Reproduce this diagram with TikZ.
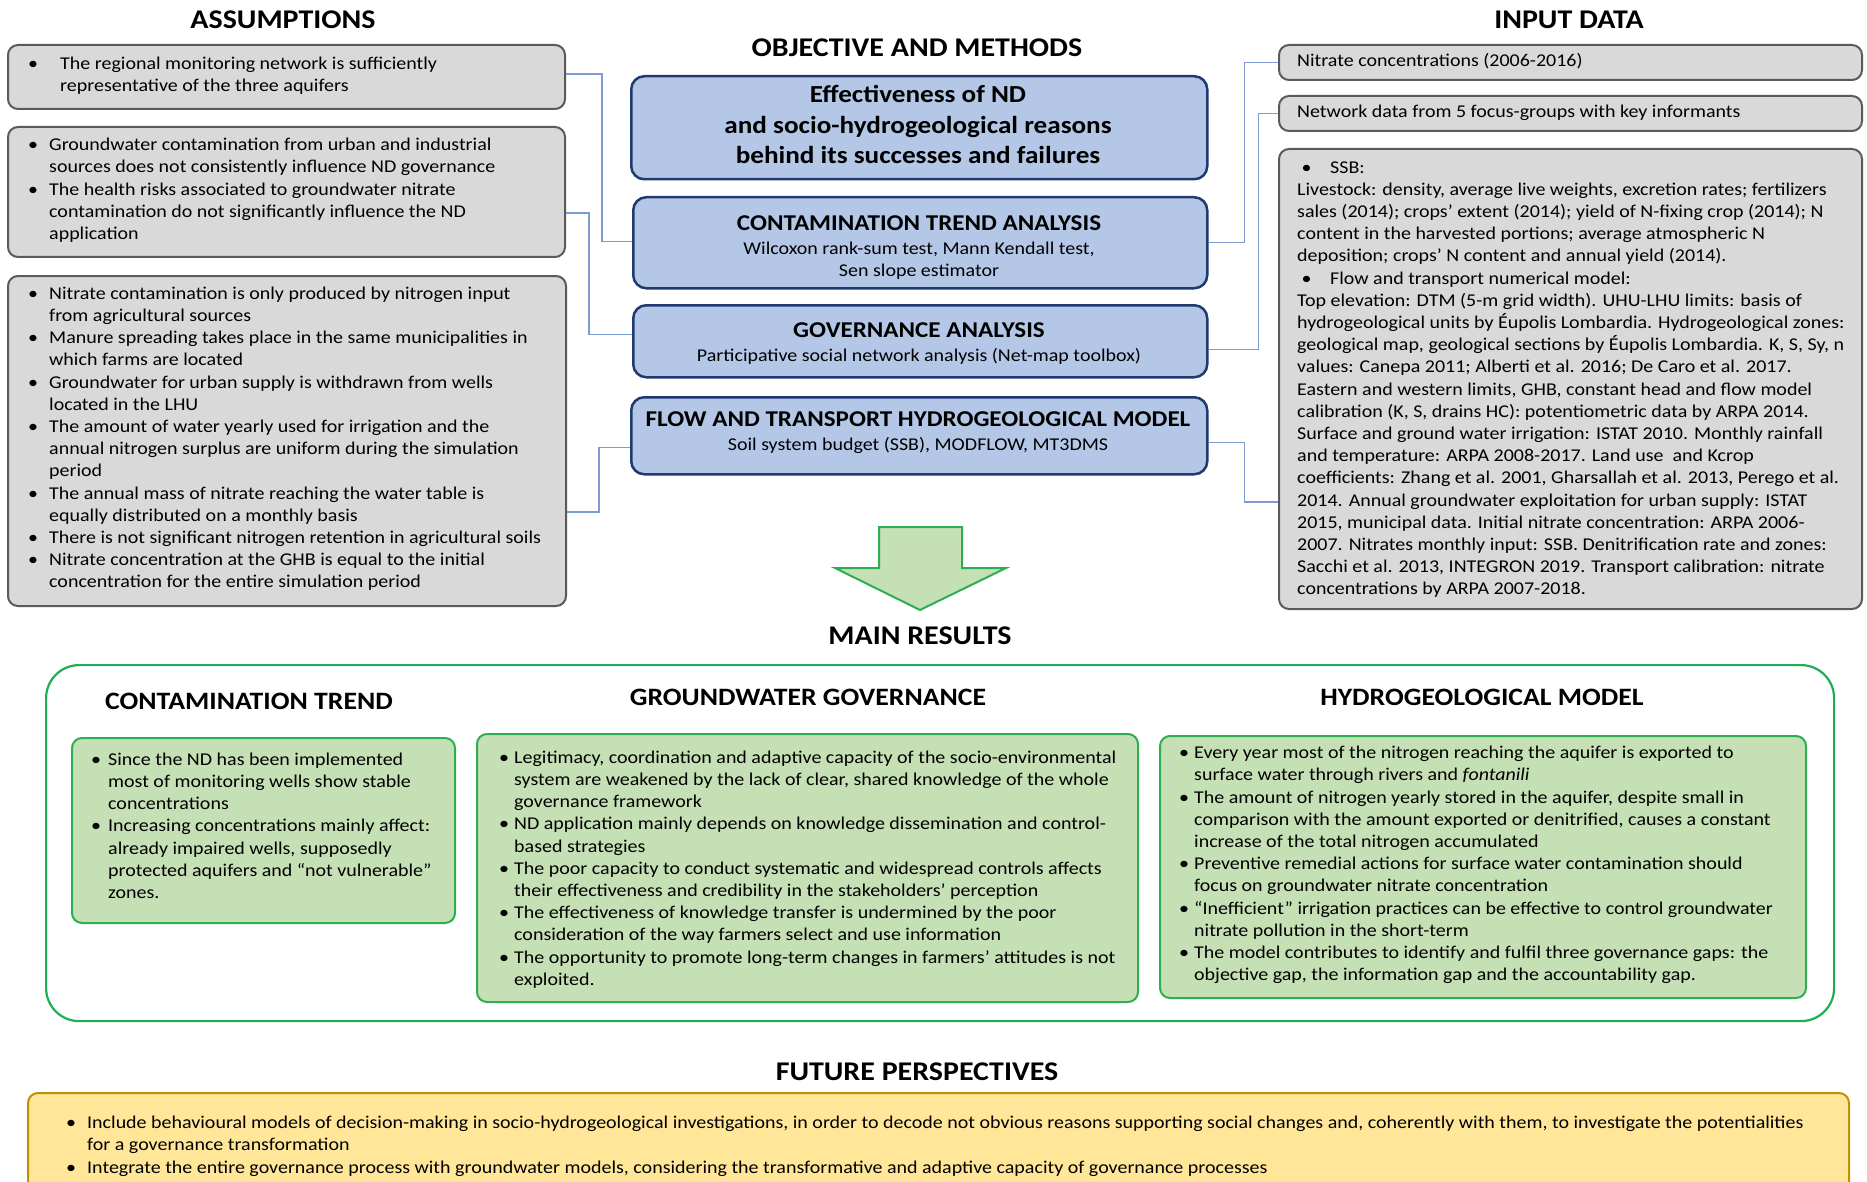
\documentclass[tikz,border=0pt]{standalone}
\usepackage{fontspec}
\setmainfont{Carlito}[FakeStretch=1.11]
\definecolor{grayfill}{HTML}{D9D9D9}
\definecolor{grayline}{HTML}{5A5A5A}
\definecolor{bluefill}{HTML}{B4C7E7}
\definecolor{blueline}{HTML}{1F3A70}
\definecolor{connblue}{HTML}{7F9BD4}
\definecolor{greenfill}{HTML}{C5E0B4}
\definecolor{greenline}{HTML}{2EAD52}
\definecolor{framegreen}{HTML}{1FAE55}
\definecolor{yellowfill}{HTML}{FFE699}
\definecolor{yellowline}{HTML}{BF9000}
\newcommand\bodyfont{\fontsize{18}{22.2}\selectfont}
\newcommand\bul[1]{\makebox[#1][l]{\textbullet}}
\newcommand\ind[1]{\hspace*{#1}}
\begin{document}
\begin{tikzpicture}[x=1pt,y=-1pt,
  graybox/.style={draw=grayline, fill=grayfill, line width=2pt, rounded corners=10pt, inner sep=0pt, anchor=north west},
  bluebox/.style={draw=blueline, fill=bluefill, line width=2.5pt, rounded corners=13pt, inner sep=0pt, anchor=north west},
  greenbox/.style={draw=greenline, fill=greenfill, line width=2pt, rounded corners=10pt, inner sep=0pt, anchor=north west},
  framebox/.style={draw=framegreen, fill=white, line width=2.2pt, rounded corners=33pt, inner sep=0pt, anchor=north west},
  yellowbox/.style={draw=yellowline, fill=yellowfill, line width=2pt, rounded corners=10pt, inner sep=0pt, anchor=north west},
  conn/.style={draw=connblue, line width=1.4pt},
  body/.style={anchor=north west, inner sep=0pt, align=left, font=\bodyfont},
  head/.style={anchor=base, inner sep=0pt, font=\fontsize{27}{31}\selectfont\bfseries},
  subhead/.style={anchor=base, inner sep=0pt, font=\fontsize{25}{30}\selectfont\bfseries},
  mtitle/.style={anchor=base, inner sep=0pt, font=\fontsize{22.6}{27}\selectfont\bfseries},
  msub/.style={anchor=base, inner sep=0pt, font=\bodyfont},
]
\useasboundingbox (0,0) rectangle (1867,1182);
\clip (0,0) rectangle (1867,1182);

% ---------- titles ----------
\node[head] (tAss) at (283,28.6) {ASSUMPTIONS};
\node[head] (tObj) at (917,56.6) {OBJECTIVE AND METHODS};
\node[head] (tIn) at (1569,28.6) {INPUT DATA};
\node[head] (tMain) at (920,644.6) {MAIN RESULTS};
\node[head] (tFut) at (917,1080.6) {FUTURE PERSPECTIVES};

% ---------- assumptions ----------
\node[graybox, minimum width=557pt, minimum height=64pt] (as1) at (7,44) {};
\node[graybox, minimum width=557pt, minimum height=130pt] (as2) at (7,126) {};
\node[graybox, minimum width=558pt, minimum height=330pt] (as3) at (7,275) {};

\node[body] (as1t) at (28,54) {\strut\bul{32pt}The regional monitoring network is sufficiently\\
\ind{32pt}representative of the three aquifers};
\node[body] (as2t) at (28,135) {\strut\bul{21pt}Groundwater contamination from urban and industrial\\
\ind{21pt}sources does not consistently influence ND governance\\
\bul{21pt}The health risks associated to groundwater nitrate\\
\ind{21pt}contamination do not significantly influence the ND\\
\ind{21pt}application};
\node[body] (as3t) at (28,283.5) {\strut\bul{21pt}Nitrate contamination is only produced by nitrogen input\\
\ind{21pt}from agricultural sources\\
\bul{21pt}Manure spreading takes place in the same municipalities in\\
\ind{21pt}which farms are located\\
\bul{21pt}Groundwater for urban supply is withdrawn from wells\\
\ind{21pt}located in the LHU\\
\bul{21pt}The amount of water yearly used for irrigation and the\\
\ind{21pt}annual nitrogen surplus are uniform during the simulation\\
\ind{21pt}period\\
\bul{21pt}The annual mass of nitrate reaching the water table is\\
\ind{21pt}equally distributed on a monthly basis\\
\bul{21pt}There is not significant nitrogen retention in agricultural soils\\
\bul{21pt}Nitrate concentration at the GHB is equal to the initial\\
\ind{21pt}concentration for the entire simulation period};

% ---------- objective and methods ----------
\node[bluebox, minimum width=576pt, minimum height=103pt] (mA) at (630,75) {};
\node[bluebox, minimum width=574pt, minimum height=91pt] (mB) at (632,196) {};
\node[bluebox, minimum width=574pt, minimum height=72pt] (mC) at (632,304) {};
\node[bluebox, minimum width=576pt, minimum height=77pt] (mD) at (630,396) {};

\node[anchor=north, inner sep=0pt, align=center, font=\fontsize{24.5}{30.5}\selectfont\bfseries] (mAt) at (918,81)
  {\strut Effectiveness of ND\\and socio-hydrogeological reasons\\behind its successes and failures};
\node[mtitle] (mBt) at (919,230.5) {CONTAMINATION TREND ANALYSIS};
\node[anchor=north, inner sep=0pt, align=center, font=\bodyfont] (mBs) at (919,238.5)
  {\strut Wilcoxon rank-sum test, Mann Kendall test,\\Sen slope estimator};
\node[mtitle] (mCt) at (919,337.5) {GOVERNANCE ANALYSIS};
\node[msub] (mCs) at (919,361) {Participative social network analysis (Net-map toolbox)};
\node[mtitle] (mDt) at (918,426.5) {FLOW AND TRANSPORT HYDROGEOLOGICAL MODEL};
\node[msub] (mDs) at (918,450) {Soil system budget (SSB), MODFLOW, MT3DMS};

% ---------- input data ----------
\node[graybox, minimum width=583pt, minimum height=35pt] (r1) at (1278,44) {};
\node[graybox, minimum width=583pt, minimum height=35pt] (r2) at (1278,95) {};
\node[graybox, minimum width=583pt, minimum height=460pt] (r3) at (1278,148) {};

\node[anchor=base west, inner sep=0pt, font=\bodyfont] (r1t) at (1297,67) {Nitrate concentrations (2006-2016)};
\node[anchor=base west, inner sep=0pt, font=\bodyfont] (r2t) at (1297,118) {Network data from 5 focus-groups with key informants};
\node[body] (r3t) at (1297,157.3) {\strut\ind{4.5pt}\bul{28.5pt}SSB:\\
Livestock: density, average live weights, excretion rates; fertilizers\\
sales (2014); crops’ extent (2014); yield of N-fixing crop (2014); N\\
content in the harvested portions; average atmospheric N\\
deposition; crops’ N content and annual yield (2014).\\
\ind{4.5pt}\bul{28.5pt}Flow and transport numerical model:\\
Top elevation: DTM (5-m grid width). UHU-LHU limits: basis of\\
hydrogeological units by Éupolis Lombardia. Hydrogeological zones:\\
geological map, geological sections by Éupolis Lombardia. K, S, Sy, n\\
values: Canepa 2011; Alberti et al. 2016; De Caro et al. 2017.\\
Eastern and western limits, GHB, constant head and flow model\\
calibration (K, S, drains HC): potentiometric data by ARPA 2014.\\
Surface and ground water irrigation: ISTAT 2010. Monthly rainfall\\
and temperature: ARPA 2008-2017. Land use\ \ and Kcrop\\
coefficients: Zhang et al. 2001, Gharsallah et al. 2013, Perego et al.\\
2014. Annual groundwater exploitation for urban supply: ISTAT\\
2015, municipal data. Initial nitrate concentration: ARPA 2006-\\
2007. Nitrates monthly input: SSB. Denitrification rate and zones:\\
Sacchi et al. 2013, INTEGRON 2019. Transport calibration: nitrate\\
concentrations by ARPA 2007-2018.};

% ---------- connectors ----------
\draw[conn] ([yshift=3pt]as1.east) -- ++(36,0) |- ([yshift=1.5pt]mB.west);
\draw[conn] ([yshift=-21pt]as2.east) -- ++(23,0) |- ([yshift=7pt]mC.west);
\draw[conn] ([yshift=-71pt]as3.east) -- ++(32,0) |- ([yshift=-12pt]mD.west);
\draw[conn] (mB.east) -- ++(36,0) |- (r1.west);
\draw[conn] ([yshift=-8pt]mC.east) -- ++(50,0) |- (r2.west);
\draw[conn] ([yshift=-7pt]mD.east) -- ++(36,0) |- ([yshift=-123pt]r3.west);

% ---------- arrow ----------
\draw[draw=greenline, fill=greenfill, line width=2pt, line join=miter]
  (879,527) -- (962,527) -- (962,568) -- (1006,568) -- (920,610) -- (835,568) -- (879,568) -- cycle;

% ---------- main results ----------
\node[framebox, minimum width=1788pt, minimum height=356pt] (mr) at (45,664) {};
\node[subhead] (hCT) at (249,709) {CONTAMINATION TREND};
\node[subhead] (hGG) at (808,705) {GROUNDWATER GOVERNANCE};
\node[subhead] (hHM) at (1482,705) {HYDROGEOLOGICAL MODEL};

\node[greenbox, minimum width=383pt, minimum height=185pt] (gCT) at (71,737) {};
\node[greenbox, minimum width=661pt, minimum height=268pt] (gGG) at (476,733) {};
\node[greenbox, minimum width=646pt, minimum height=262pt] (gHM) at (1159,735) {};

\node[body] (gCTt) at (91,749.5) {\strut\bul{17pt}Since the ND has been implemented\\
\ind{17pt}most of monitoring wells show stable\\
\ind{17pt}concentrations\\
\bul{17pt}Increasing concentrations mainly affect:\\
\ind{17pt}already impaired wells, supposedly\\
\ind{17pt}protected aquifers and “not vulnerable”\\
\ind{17pt}zones.};
\node[body] (gGGt) at (499,747.5) {\strut\bul{15pt}Legitimacy, coordination and adaptive capacity of the socio-environmental\\
\ind{15pt}system are weakened by the lack of clear, shared knowledge of the whole\\
\ind{15pt}governance framework\\
\bul{15pt}ND application mainly depends on knowledge dissemination and control-\\
\ind{15pt}based strategies\\
\bul{15pt}The poor capacity to conduct systematic and widespread controls affects\\
\ind{15pt}their effectiveness and credibility in the stakeholders’ perception\\
\bul{15pt}The effectiveness of knowledge transfer is undermined by the poor\\
\ind{15pt}consideration of the way farmers select and use information\\
\bul{15pt}The opportunity to promote long-term changes in farmers’ attitudes is not\\
\ind{15pt}exploited.};
\node[body] (gHMt) at (1179,743) {\strut\bul{15pt}Every year most of the nitrogen reaching the aquifer is exported to\\
\ind{15pt}surface water through rivers and \textit{fontanili}\\
\bul{15pt}The amount of nitrogen yearly stored in the aquifer, despite small in\\
\ind{15pt}comparison with the amount exported or denitrified, causes a constant\\
\ind{15pt}increase of the total nitrogen accumulated\\
\bul{15pt}Preventive remedial actions for surface water contamination should\\
\ind{15pt}focus on groundwater nitrate concentration\\
\bul{15pt}“Inefficient” irrigation practices can be effective to control groundwater\\
\ind{15pt}nitrate pollution in the short-term\\
\bul{15pt}The model contributes to identify and fulfil three governance gaps: the\\
\ind{15pt}objective gap, the information gap and the accountability gap.};

% ---------- future perspectives ----------
\node[yellowbox, minimum width=1821pt, minimum height=110pt] (fp) at (27,1092) {};
\node[body] (fpt) at (66,1113) {\strut\bul{21pt}Include behavioural models of decision-making in socio-hydrogeological investigations, in order to decode not obvious reasons supporting social changes and, coherently with them, to investigate the potentialities\\
\ind{21pt}for a governance transformation\\
\bul{21pt}Integrate the entire governance process with groundwater models, considering the transformative and adaptive capacity of governance processes};
\end{tikzpicture}
\end{document}
